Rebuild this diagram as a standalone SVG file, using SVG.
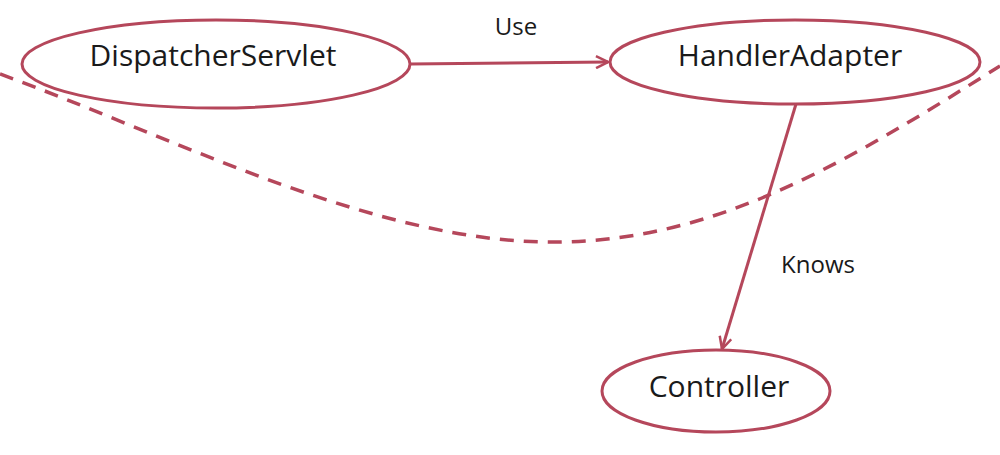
<svg xmlns="http://www.w3.org/2000/svg" width="1000" height="455" viewBox="0 0 1000 455">
<style>
.node{fill:#ffffff;stroke:#b5475b;stroke-width:3}
.lbl{font-family:"Open Sans","Noto Sans","Liberation Sans",sans-serif;fill:#1a1a1a;text-anchor:middle}
.big{font-size:30px}
.small{font-size:24px}
.edge{fill:none;stroke:#b5475b;stroke-width:3}
.dash{fill:none;stroke:#b5475b;stroke-width:3.5;stroke-dasharray:14 10}
</style>
<defs>
<marker id="arr" viewBox="0 0 14 14" refX="13" refY="7" markerWidth="14" markerHeight="14" markerUnits="userSpaceOnUse" orient="auto">
<path d="M1,1 L13,7 L1,13" fill="none" stroke="#b5475b" stroke-width="2.5"/>
</marker>
</defs>
<rect width="1000" height="455" fill="#ffffff"/>
<path class="dash" d="M0,74 C180,140 380,245 560,242 C720,240 850,160 1000,66"/>
<g id="connectors">
<path class="edge" d="M410,64 L608,62" marker-end="url(#arr)"/>
<path class="edge" d="M796,104 L722,349" marker-end="url(#arr)"/>
<text class="lbl small" x="516" y="35">Use</text>
<text class="lbl small" x="818" y="273">Knows</text>
</g>
<g id="dispatcher">
<ellipse class="node" cx="216" cy="64" rx="194" ry="44"/>
<text class="lbl big" x="213" y="66">DispatcherServlet</text>
</g>
<g id="handleradapter">
<ellipse class="node" cx="795" cy="62" rx="185" ry="42"/>
<text class="lbl big" x="790" y="66">HandlerAdapter</text>
</g>
<g id="controller">
<ellipse class="node" cx="716" cy="391" rx="114" ry="41"/>
<text class="lbl big" x="719" y="397">Controller</text>
</g>
</svg>
